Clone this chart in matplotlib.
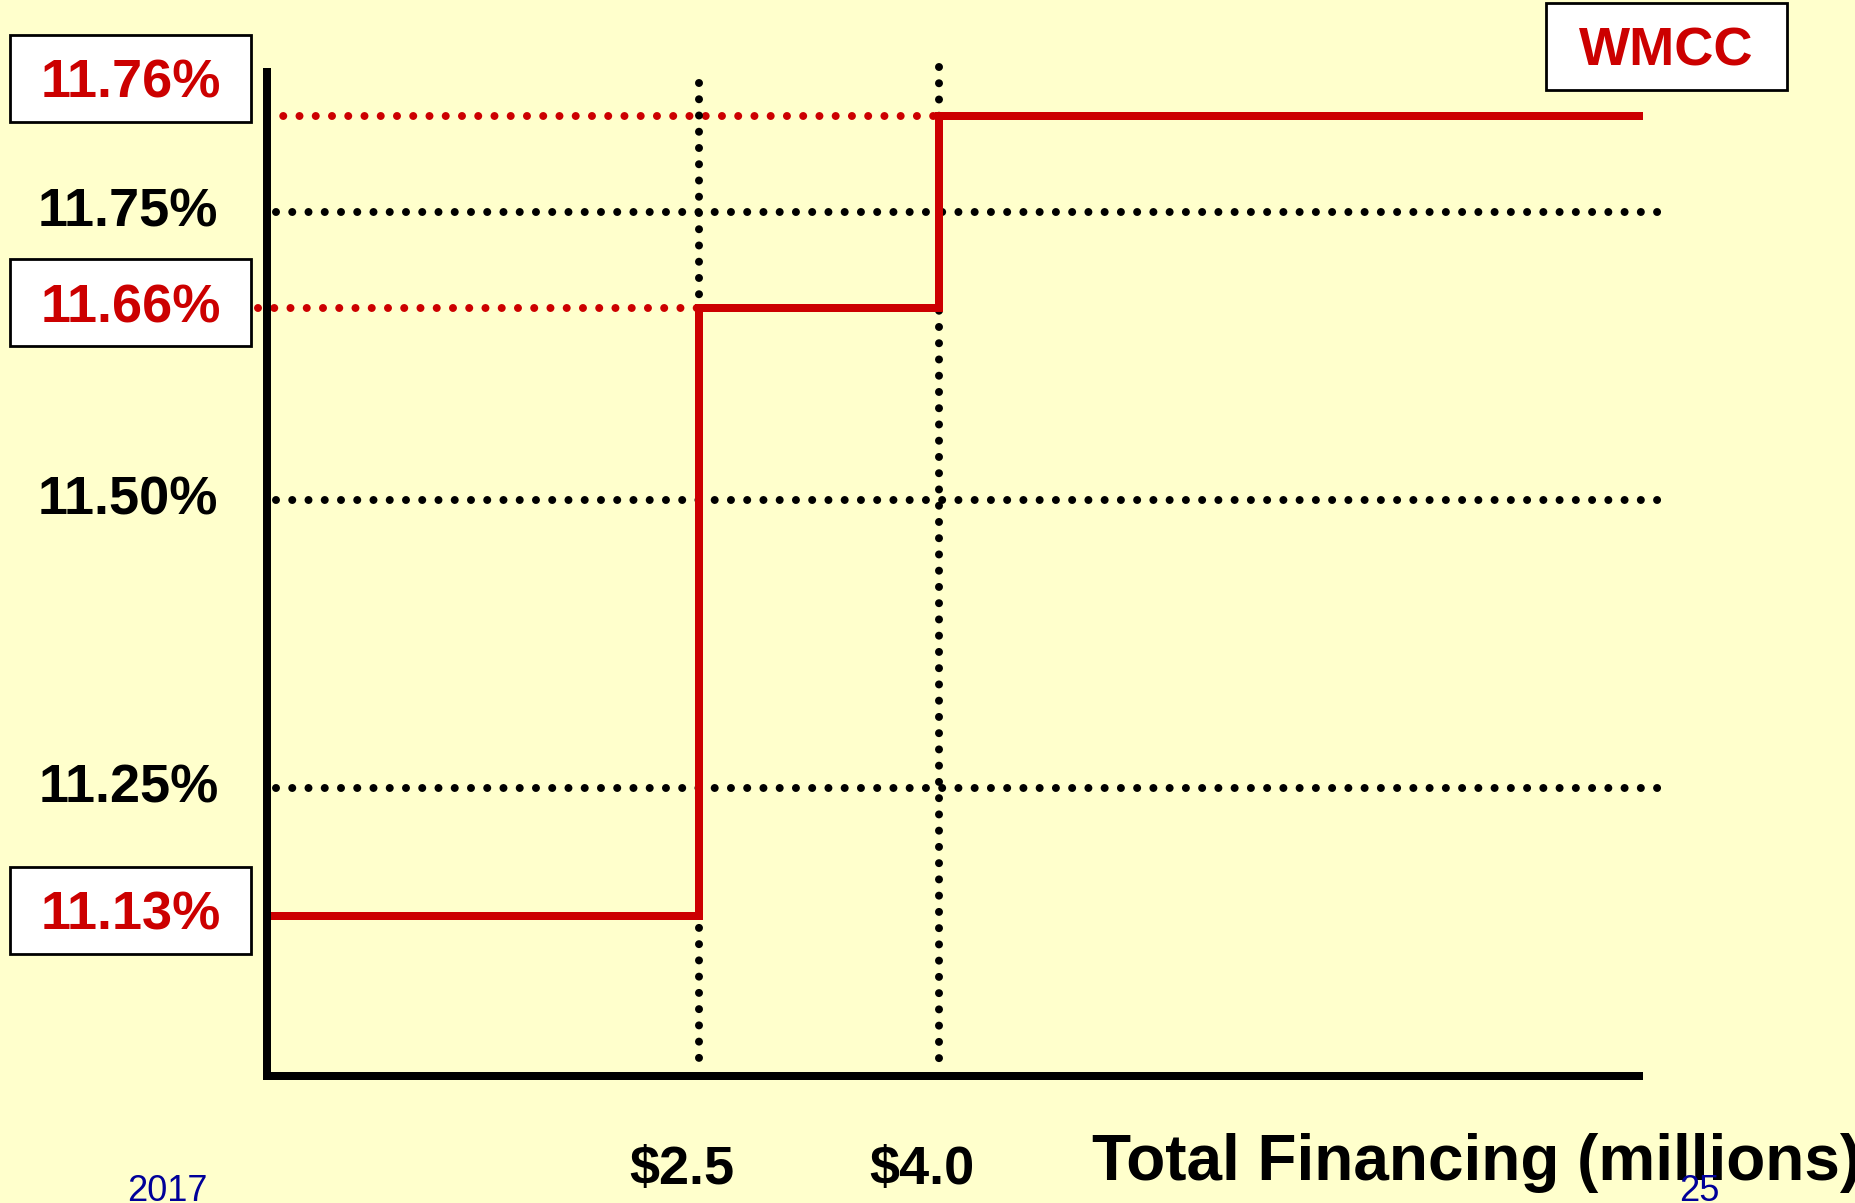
import numpy as np
import matplotlib
matplotlib.use("Agg")
import matplotlib.pyplot as plt
from matplotlib.patches import Rectangle
from matplotlib.transforms import ScaledTranslation

# ---------------- data ----------------
financing_breaks = [0.0, 2.5, 4.0, 8.0]          # total financing, $ millions
wmcc_rates = [11.13, 11.66, 11.76, 11.76]        # weighted marginal cost of capital, %
grid_rates = [11.25, 11.50, 11.75]
grid_labels = ["11.25%", "11.50%", "11.75%"]
break_ticks = [2.5, 4.0]
break_labels = ["$2.5", "$4.0"]
highlight_rates = [11.76, 11.66, 11.13]
highlight_labels = ["11.76%", "11.66%", "11.13%"]
highlight_ends = [4.0, 2.5, None]
title_label = "WMCC"
x_title = "Total Financing (millions)"
footer_left = "2017"
footer_right = "25"

# ---------------- style / layout ----------------
W, H, DPI = 1855, 1203, 100
BG = "#FFFFCC"
RED = "#CC0000"
NAVY = "#000099"
LW = 5.76  # 8 px
FS = 39

plt.rcParams["font.family"] = ["Liberation Sans", "DejaVu Sans"]
plt.rcParams["font.weight"] = "bold"

# schematic (non-uniform) scales: value -> pixel position
X_KNOTS_VAL = [0.0, 2.5, 4.0, 8.0]
X_KNOTS_PX = [267, 699, 939, 1643]
Y_KNOTS_VAL = [11.13, 11.25, 11.50, 11.66, 11.75, 11.76]
Y_KNOTS_PX = [287, 415, 703, 895, 991, 1087]   # measured from bottom


def piecewise(xp, fp):
    xp = np.asarray(xp, float)
    fp = np.asarray(fp, float)
    s0 = (fp[1] - fp[0]) / (xp[1] - xp[0])
    s1 = (fp[-1] - fp[-2]) / (xp[-1] - xp[-2])

    def f(v):
        v = np.asarray(v, float)
        out = np.interp(v, xp, fp)
        out = np.where(v < xp[0], fp[0] + (v - xp[0]) * s0, out)
        out = np.where(v > xp[-1], fp[-1] + (v - xp[-1]) * s1, out)
        return out
    return f


fx, fx_inv = piecewise(X_KNOTS_VAL, X_KNOTS_PX), piecewise(X_KNOTS_PX, X_KNOTS_VAL)
fy, fy_inv = piecewise(Y_KNOTS_VAL, Y_KNOTS_PX), piecewise(Y_KNOTS_PX, Y_KNOTS_VAL)

AX_L, AX_R, AX_B, AX_T = 267, 1643, 127, 1131  # pixels (from bottom)

fig = plt.figure(figsize=(W / DPI, H / DPI), dpi=DPI, facecolor=BG)
ax = fig.add_axes([AX_L / W, AX_B / H, (AX_R - AX_L) / W, (AX_T - AX_B) / H])
ax.set_facecolor(BG)
ax.set_xscale("function", functions=(fx, fx_inv))
ax.set_yscale("function", functions=(fy, fy_inv))
ax.set_xlim(financing_breaks[0], financing_breaks[-1])
ax.set_ylim(float(fy_inv(AX_B)), float(fy_inv(AX_T)))

for side in ("top", "right"):
    ax.spines[side].set_visible(False)
ax.spines["left"].set_linewidth(LW)
ax.spines["bottom"].set_linewidth(LW)
ax.spines["bottom"].set_capstyle("butt")
ax.spines["left"].set_zorder(6)
ax.spines["bottom"].set_zorder(6)

DOT = dict(linestyle=(0, (0.001, 2.03)), dash_capstyle="round", lw=LW)

# black horizontal dotted grid
gx0 = (276 - AX_L) / (AX_R - AX_L)
gx1 = (1662 - AX_L) / (AX_R - AX_L)
for v in grid_rates:
    ax.plot([gx0, gx1], [v, v], transform=ax.get_yaxis_transform(),
            color="black", clip_on=False, zorder=2, **DOT)

# red dotted guides to the highlighted rates
for v, xe in zip(highlight_rates, highlight_ends):
    if xe is None:
        continue
    x0 = 0.0 if xe > 3 else -0.05
    ax.plot([x0, xe], [v, v], color=RED, clip_on=False, zorder=2, **DOT)

# vertical dotted break lines (from top down)
for xb in break_ticks:
    top_px = H - (83 if xb < 3 else 67)
    bot_px = H - 1064
    ax.plot([xb, xb], [(top_px - AX_B) / (AX_T - AX_B), (bot_px - AX_B) / (AX_T - AX_B)],
            transform=ax.get_xaxis_transform(), color="black", clip_on=False,
            zorder=3, **DOT)

# WMCC step line
ax.step(financing_breaks, wmcc_rates, where="post", color=RED, lw=LW,
        solid_capstyle="butt", solid_joinstyle="miter", zorder=5)

# ticks
ax.set_yticks(grid_rates, grid_labels)
ax.set_xticks(break_ticks, break_labels)
ax.tick_params(axis="y", length=0, pad=35, labelsize=FS)
ax.tick_params(axis="x", length=0, pad=50, labelsize=FS)
for lbl in ax.get_yticklabels():
    lbl.set_fontweight("bold")
    lbl.set_transform(lbl.get_transform() + ScaledTranslation(0, 5 / DPI, fig.dpi_scale_trans))
for lbl in ax.get_xticklabels():
    lbl.set_fontweight("bold")
    lbl.set_transform(lbl.get_transform() + ScaledTranslation(-17 / DPI, 0, fig.dpi_scale_trans))


def px_rect(x0, y0, x1, y1):
    return (x0 / W, 1 - y1 / H), (x1 - x0) / W, (y1 - y0) / H


def boxed_label(text, box, size=FS):
    x0, y0, x1, y1 = box
    xy, w, h = px_rect(x0, y0, x1, y1)
    fig.add_artist(Rectangle(xy, w, h, transform=fig.transFigure, facecolor="white",
                             edgecolor="black", lw=2.0, zorder=7))
    cx = (x0 + x1) / 2
    cy = (y0 + y1) / 2 + 19.5
    fig.text(cx / W, 1 - cy / H, text, color=RED, fontsize=size, fontweight="bold",
             ha="center", va="baseline", zorder=8)


HL_BOXES = [(10, 35, 251, 122), (10, 259, 251, 346), (10, 867, 251, 954)]
for lab, box in zip(highlight_labels, HL_BOXES):
    boxed_label(lab, box)
boxed_label(title_label, (1546, 3, 1787, 90))

fig.text(1092 / W, 1 - 1180 / H, x_title, fontsize=46, fontweight="bold",
         color="black", ha="left", va="baseline")
fig.text(127 / W, 1 - 1201 / H, footer_left, fontsize=26, fontweight="normal",
         color=NAVY, ha="left", va="baseline")
fig.text(1679 / W, 1 - 1201 / H, footer_right, fontsize=26, fontweight="normal",
         color=NAVY, ha="left", va="baseline")

fig.savefig("out.png", dpi=DPI, facecolor=BG)
